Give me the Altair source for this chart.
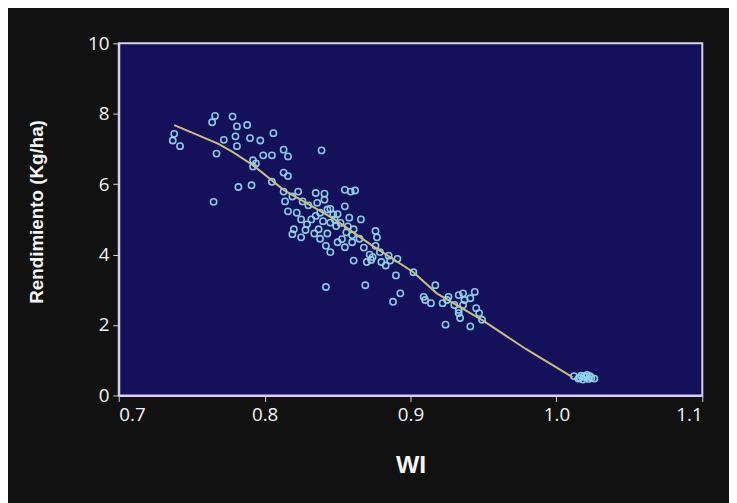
import altair as alt
import pandas as pd

wi = [0.738, 0.737, 0.742, 0.766, 0.764, 0.767, 0.765, 0.772, 0.778, 0.781,
      0.788, 0.780, 0.781, 0.790, 0.797, 0.806, 0.782, 0.791, 0.792, 0.792,
      0.794, 0.799, 0.805, 0.805, 0.813, 0.816, 0.813, 0.816, 0.839, 0.813,
      0.819, 0.823, 0.814, 0.816, 0.822, 0.826, 0.820, 0.819, 0.825, 0.829,
      0.832, 0.835, 0.841, 0.836, 0.838, 0.841, 0.843, 0.847, 0.848, 0.845,
      0.849, 0.837, 0.842, 0.845, 0.853, 0.855, 0.856, 0.855, 0.859, 0.862,
      0.855, 0.858, 0.861, 0.860, 0.866, 0.842, 0.861, 0.869, 0.870, 0.874,
      0.876, 0.877, 0.876, 0.879, 0.880, 0.885, 0.883, 0.886, 0.891, 0.890,
      0.893, 0.888, 0.902, 0.917, 0.909, 0.910, 0.914, 0.922, 0.925, 0.926,
      0.924, 0.930, 0.933, 0.936, 0.937, 0.944, 0.941, 0.933, 0.934, 0.941,
      0.945, 0.947, 0.949, 0.933, 0.936,
      0.830, 0.835, 0.840, 0.845, 0.850, 0.852, 0.857, 0.860, 0.865, 0.868,
      0.872, 0.873, 0.825, 0.828, 0.834, 0.838, 0.843, 0.850,
      1.012, 1.015, 1.017, 1.018, 1.020, 1.021, 1.022, 1.024, 1.026, 1.016,
      1.019, 1.023]
rend = [7.43, 7.24, 7.08, 7.94, 7.76, 6.87, 5.50, 7.26, 7.92, 7.64,
        7.68, 7.36, 7.08, 7.31, 7.24, 7.45, 5.92, 5.97, 6.68, 6.50,
        6.59, 6.82, 6.82, 6.07, 6.98, 6.79, 6.33, 6.23, 6.96, 5.79,
        5.65, 5.79, 5.51, 5.23, 5.19, 5.51, 4.72, 4.58, 4.49, 4.86,
        5.00, 5.75, 5.73, 5.47, 5.19, 5.56, 5.28, 5.14, 5.00, 4.91,
        4.81, 4.72, 4.25, 4.07, 4.44, 4.21, 4.63, 5.84, 5.79, 5.82,
        5.37, 5.05, 4.72, 4.35, 5.00, 3.08, 3.83, 3.13, 3.79, 3.93,
        4.67, 4.49, 4.25, 4.07, 3.79, 3.97, 3.69, 3.83, 3.88, 3.41,
        2.90, 2.66, 3.50, 3.13, 2.80, 2.71, 2.62, 2.62, 2.71, 2.80,
        2.01, 2.57, 2.85, 2.90, 2.71, 2.94, 2.76, 2.43, 2.20, 1.96,
        2.48, 2.34, 2.15, 2.34, 2.57,
        5.40, 5.10, 4.95, 5.30, 5.15, 4.90, 4.80, 4.55, 4.45, 4.20,
        4.00, 3.85, 5.00, 4.70, 4.60, 4.45, 4.60, 4.35,
        0.55, 0.48, 0.56, 0.45, 0.52, 0.58, 0.47, 0.50, 0.48, 0.50,
        0.55, 0.55]

fit_wi = [0.738, 0.768, 0.778, 0.792, 0.813, 0.848, 0.874, 0.902, 0.918,
          0.950, 0.979, 1.011]
fit_rend = [7.68, 7.15, 6.92, 6.54, 5.84, 5.00, 4.25, 3.50, 2.90,
            2.12, 1.32, 0.52]

pts = pd.DataFrame({"WI": wi, "Rend": rend})
fit = pd.DataFrame({"WI": fit_wi, "Rend": fit_rend})

xs = alt.Scale(domain=[0.7, 1.1], nice=False)
ys = alt.Scale(domain=[0, 10], nice=False)

xaxis = alt.Axis(values=[0.7, 0.8, 0.9, 1.0, 1.1], format=".1f", title="WI",
                 titleFontSize=25, titleFontWeight="bold", titleColor="#f4f4f4",
                 titleY=70, titleBaseline="middle", grid=False)
yaxis = alt.Axis(values=[0, 2, 4, 6, 8, 10], format="d", title="Rendimiento (Kg/ha)",
                 titleFontSize=19, titleFontWeight="bold", titleColor="#f4f4f4",
                 titleX=-83, titleY=170, titleAngle=270, titleAlign="center",
                 titleBaseline="middle", grid=False)

points = alt.Chart(pts).mark_point(
    shape="circle", filled=False, stroke="#8fd6f0", strokeWidth=1.6, size=40, opacity=0.95
).encode(
    x=alt.X("WI:Q", scale=xs, axis=xaxis),
    y=alt.Y("Rend:Q", scale=ys, axis=yaxis),
)

line = alt.Chart(fit).mark_line(color="#c9bd82", strokeWidth=2, interpolate="linear").encode(
    x=alt.X("WI:Q", scale=xs),
    y=alt.Y("Rend:Q", scale=ys),
)

chart = alt.layer(points, line).properties(
    width=590, height=356,
    autosize=alt.AutoSizeParams(type="none"),
    padding={"left": 112, "top": 33, "right": 27, "bottom": 106},
    background="#111111",
).configure_view(
    fill="#14115a", stroke="#d8d0f0", strokeWidth=2
).configure_axis(
    domainColor="#d8d0f0", domainWidth=2, tickColor="#d8d0f0", tickSize=6,
    labelColor="#f4f4f4", labelFontSize=19, labelFont="Open Sans",
    titleFont="Liberation Sans", labelPadding=4,
)

chart.save("out.html", embed_options={"renderer": "svg", "actions": False})
